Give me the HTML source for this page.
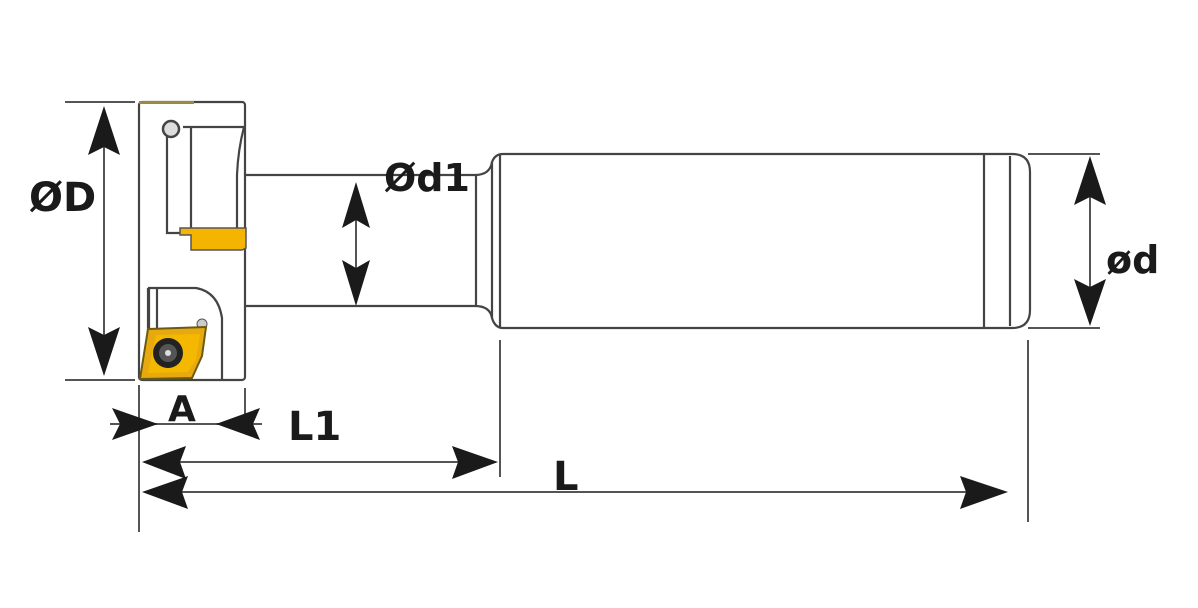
<!DOCTYPE html>
<html><head><style>
html,body{margin:0;padding:0;background:#fff;}
svg{display:block;}
text{font-family:"DejaVu Sans","Liberation Sans",sans-serif;font-weight:bold;fill:#1a1a1a;}
</style></head><body>
<svg width="1198" height="608" viewBox="0 0 1198 608" xmlns="http://www.w3.org/2000/svg">
<g fill="none" stroke="#444" stroke-width="2.2">
<rect x="139" y="102" width="106" height="278" rx="3"/>
<path d="M245 175 H475 Q490 175 492 162 Q495 154 503 154 H985"/>
<path d="M245 306 H475 Q490 306 492 318 Q495 328 503 328 H985"/>
<line x1="476" y1="175" x2="476" y2="306"/>
<line x1="492" y1="162" x2="492" y2="318"/>
<line x1="500" y1="154" x2="500" y2="328"/>
<path d="M985 154 H1012 Q1030 154 1030 172 V310 Q1030 328 1012 328 H985"/>
<line x1="984" y1="154" x2="984" y2="328"/>
<line x1="1010" y1="156" x2="1010" y2="326"/>
<path d="M167 133 V233 H180"/>
<path d="M183 127 H244 M191 127 V228 M244 127 Q238 150 237 175 V228"/>
<path d="M149 380 V288 H196 Q218 292 222 318 V380"/>
<line x1="148" y1="288" x2="148" y2="380"/>
<line x1="157" y1="288" x2="157" y2="335"/>
</g>
<circle cx="171" cy="129" r="8" fill="#ddd" stroke="#444" stroke-width="2.5"/>
<rect x="139" y="101" width="55" height="3" fill="#9a8a40"/>
<path d="M180 228 H246 V248 L242 250 H191 V235 H180 Z" fill="#f5b400" stroke="#555" stroke-width="1.5"/>
<circle cx="202" cy="324" r="5" fill="#ccc" stroke="#555"/>
<path d="M148 329 L206 327 L202 356 L192 378 L140 379 L143 360 Z" fill="#e6aa10" stroke="#6b5a10" stroke-width="2"/>
<path d="M156 335 L200 334 L196 360 L188 372 L148 373 Z" fill="#f5b800"/>
<circle cx="168" cy="353" r="15" fill="#222"/>
<circle cx="168" cy="353" r="9" fill="#555"/>
<circle cx="168" cy="353" r="3" fill="#ddd"/>
<g stroke="#555" stroke-width="2" fill="none">
<line x1="65" y1="102" x2="135" y2="102"/>
<line x1="65" y1="380" x2="135" y2="380"/>
<line x1="104" y1="130" x2="104" y2="355"/>
<line x1="356" y1="200" x2="356" y2="290"/>
<line x1="1028" y1="154" x2="1100" y2="154"/>
<line x1="1028" y1="328" x2="1100" y2="328"/>
<line x1="1090" y1="180" x2="1090" y2="305"/>
<line x1="139" y1="385" x2="139" y2="532"/>
<line x1="245" y1="388" x2="245" y2="422"/>
<line x1="110" y1="424" x2="262" y2="424"/>
<line x1="500" y1="340" x2="500" y2="477"/>
<line x1="160" y1="462" x2="480" y2="462"/>
<line x1="1028" y1="340" x2="1028" y2="522"/>
<line x1="160" y1="492" x2="990" y2="492"/>
</g>
<g fill="#1a1a1a">
<path d="M104 106 L88 155 L104 147 L120 155 Z"/>
<path d="M104 376 L88 327 L104 335 L120 327 Z"/>
<path d="M356 182 L342 228 L356 220 L370 228 Z"/>
<path d="M356 306 L342 260 L356 268 L370 260 Z"/>
<path d="M1090 156 L1074 205 L1090 197 L1106 205 Z"/>
<path d="M1090 326 L1074 279 L1090 287 L1106 279 Z"/>
<path d="M158 424 L112 408 L120 424 L112 440 Z"/>
<path d="M216 424 L260 408 L253 424 L260 440 Z"/>
<path d="M142 462 L186 446 L180 462 L186 479 Z"/>
<path d="M498 462 L452 446 L458 462 L452 479 Z"/>
<path d="M142 492 L188 476 L182 492 L188 509 Z"/>
<path d="M1008 492 L960 476 L966 492 L960 509 Z"/>
</g>
<text x="29" y="211" font-size="40">ØD</text>
<text x="384" y="191" font-size="38">Ød1</text>
<text x="1106" y="273" font-size="38">ød</text>
<text x="168" y="421" font-size="36">A</text>
<text x="288" y="440" font-size="40">L1</text>
<text x="553" y="490" font-size="40">L</text>
</svg>
</body></html>
